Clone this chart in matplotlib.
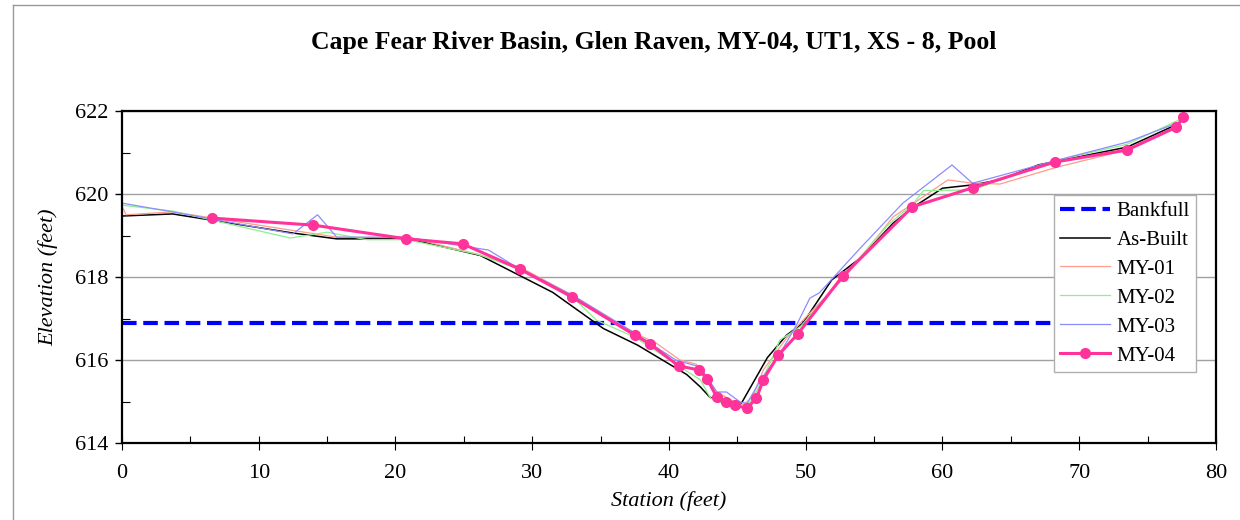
import matplotlib
matplotlib.use("Agg")
import matplotlib.pyplot as plt
from matplotlib.lines import Line2D
from matplotlib.ticker import MultipleLocator

plt.rcParams["font.family"] = ["Liberation Serif", "DejaVu Serif"]

# Cross-section survey data (station ft, elevation ft)
bankfull_st = [0, 77.6]
bankfull_el = [616.89, 616.89]

asbuilt_st = [0, 3.7, 12.5, 15.7, 21.0, 26.2, 31.5, 35.2, 37.7, 41.3, 42.3, 43.0, 45.3,
              47.2, 48.6, 49.8, 51.9, 54.0, 56.4, 57.9, 60.0, 62.2, 64.2, 67.0, 73.5, 77.3]
asbuilt_el = [619.47, 619.52, 619.06, 618.92, 618.92, 618.52, 617.63, 616.76, 616.36, 615.65,
              615.35, 615.10, 614.96, 616.06, 616.60, 616.89, 617.93, 618.46, 619.30, 619.69,
              620.14, 620.22, 620.34, 620.70, 621.13, 621.70]

my01_st = [0, 0.3, 3.7, 15.7, 21.0, 26.0, 29.1, 33.0, 37.5, 39.1, 40.8, 42.0, 43.0, 43.5,
           44.5, 45.4, 46.1, 46.9, 48.6, 49.8, 53.0, 56.4, 57.9, 60.4, 62.0, 64.2, 68.4, 73.5, 77.3]
my01_el = [619.71, 619.50, 619.57, 618.96, 618.95, 618.55, 618.24, 617.55, 616.65, 616.40,
           616.00, 615.90, 615.45, 615.23, 615.04, 614.92, 615.10, 615.76, 616.53, 616.96,
           618.05, 619.45, 619.78, 620.34, 620.27, 620.24, 620.65, 621.06, 621.65]

my02_st = [0, 3.7, 12.3, 15.0, 17.9, 20.8, 26.0, 29.1, 33.0, 34.7, 37.5, 40.3, 42.3, 43.0,
           43.5, 45.4, 46.1, 47.6, 48.1, 49.6, 52.7, 56.0, 57.9, 58.6, 62.2, 68.2, 73.5, 77.6]
my02_el = [619.73, 619.59, 618.94, 619.08, 618.90, 618.90, 618.55, 618.18, 617.50, 616.96,
           616.55, 615.95, 615.52, 615.10, 614.99, 614.87, 615.04, 616.07, 616.48, 616.80,
           618.00, 619.25, 619.78, 620.08, 620.10, 620.80, 621.20, 621.83]

my03_st = [0, 3.7, 12.5, 14.3, 15.7, 20.8, 26.8, 28.6, 33.0, 37.5, 40.5, 42.3, 43.5, 44.2,
           45.2, 45.7, 46.7, 48.2, 49.4, 50.3, 51.0, 54.0, 57.1, 60.7, 62.2, 68.2, 73.5, 77.4]
my03_el = [619.78, 619.57, 619.04, 619.50, 618.96, 618.96, 618.65, 618.29, 617.55, 616.65,
           616.00, 615.83, 615.23, 615.23, 614.99, 614.95, 615.52, 616.20, 616.89, 617.49,
           617.62, 618.70, 619.78, 620.70, 620.26, 620.80, 621.25, 621.74]

my04_st = [6.6, 14.0, 20.8, 24.9, 29.1, 32.9, 37.5, 38.6, 40.7, 42.2, 42.8, 43.5, 44.2, 44.8,
           45.7, 46.4, 46.9, 48.0, 49.4, 52.7, 57.8, 62.2, 68.2, 73.5, 77.1, 77.6]
my04_el = [619.42, 619.25, 618.92, 618.80, 618.19, 617.52, 616.60, 616.39, 615.86, 615.76,
           615.54, 615.10, 614.99, 614.91, 614.84, 615.08, 615.52, 616.12, 616.62, 618.02,
           619.69, 620.15, 620.77, 621.06, 621.61, 621.85]

fig = plt.figure(figsize=(12.4, 5.2), dpi=100)
ax = fig.add_axes([0.0984, 0.148, 0.8822, 0.6385])

ax.plot(bankfull_st, bankfull_el, color="#0000FF", lw=3, ls=(0, (3.5, 1.6)), label="Bankfull")
ax.plot(asbuilt_st, asbuilt_el, color="black", lw=1.1, label="As-Built")
ax.plot(my01_st, my01_el, color="#FF9A8C", lw=0.9, label="MY-01")
ax.plot(my02_st, my02_el, color="#8CF08C", lw=0.9, label="MY-02")
ax.plot(my03_st, my03_el, color="#8C8CFF", lw=0.9, label="MY-03")
ax.plot(my04_st, my04_el, color="#FF3399", lw=2.2, marker="o", ms=7, label="MY-04")

ax.set_xlim(0, 80)
ax.set_ylim(614, 622)
ax.xaxis.set_major_locator(MultipleLocator(10))
ax.xaxis.set_minor_locator(MultipleLocator(5))
ax.yaxis.set_major_locator(MultipleLocator(2))
ax.yaxis.set_minor_locator(MultipleLocator(1))
ax.tick_params(axis="y", which="major", direction="out", length=5, width=1, labelsize=16, pad=5)
ax.tick_params(axis="y", which="minor", direction="in", length=6, width=0.8)
ax.tick_params(axis="x", which="major", direction="inout", length=10, width=0.8, labelsize=16, pad=10)
ax.tick_params(axis="x", which="minor", direction="in", length=5, width=0.8)
ax.grid(axis="y", which="major", color="#A0A0A0", lw=1)
ax.set_axisbelow(True)
for s in ax.spines.values():
    s.set_linewidth(1.6)

ax.set_xlabel("Station (feet)", fontsize=16, style="italic", labelpad=6)
ax.set_ylabel("Elevation (feet)", fontsize=16, style="italic", labelpad=12)

fig.text(0.527, 0.918, "Cape Fear River Basin, Glen Raven, MY-04, UT1, XS - 8, Pool",
         ha="center", va="center", fontsize=18.5, fontweight="bold")

leg = ax.legend(loc="upper left", bbox_to_anchor=(0.852, 0.747), borderaxespad=0,
                fontsize=15, frameon=True, fancybox=False, framealpha=1,
                handlelength=2.4, labelspacing=0.45, borderpad=0.3, handletextpad=0.3)
leg.get_frame().set_edgecolor("#B0B0B0")
leg.get_frame().set_linewidth(1)

# thin outer frame around the chart area
fig.add_artist(Line2D([13 / 1240, 13 / 1240], [0, 1 - 5 / 520], color="#999999", lw=1))
fig.add_artist(Line2D([13 / 1240, 1], [1 - 5 / 520, 1 - 5 / 520], color="#999999", lw=1))

fig.savefig("out.png", dpi=100)
